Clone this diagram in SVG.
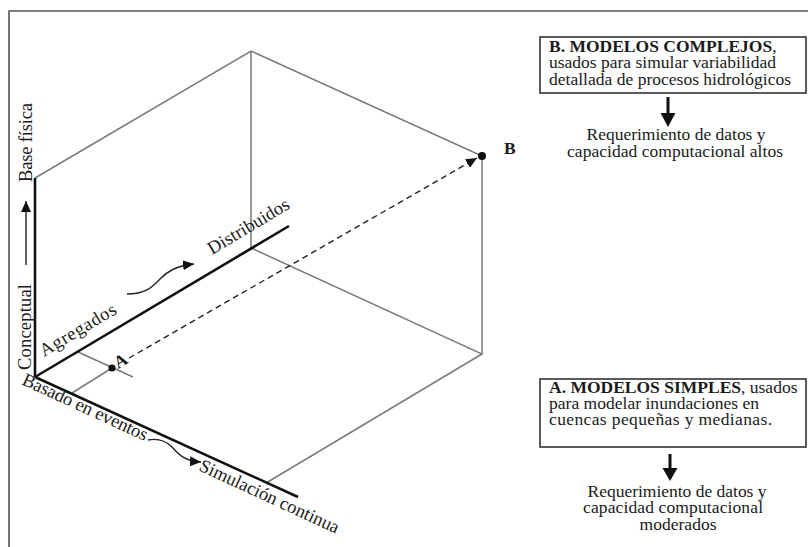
<svg xmlns="http://www.w3.org/2000/svg" width="808" height="547" viewBox="0 0 808 547">
<style>
.t{font-family:"Liberation Serif","Times New Roman",serif;fill:#1a1a1a}
.ax{font-size:18.5px}
.bx{font-size:17.5px}
.b{font-weight:bold}
.thick{stroke:#111;stroke-width:2.6;fill:none;stroke-linecap:butt}
.thin{stroke:#7a7a7a;stroke-width:1.5;fill:none}
.conn{stroke:#222;stroke-width:1.4;fill:none}
.box{fill:#fff;stroke:#333;stroke-width:1.6}
</style>
<defs>
<marker id="ah" markerWidth="12" markerHeight="10" refX="11" refY="5" orient="auto" markerUnits="userSpaceOnUse">
<path d="M0,0 L11,5 L0,10 z" fill="#111"/>
</marker>
</defs>
<rect width="808" height="547" fill="#fff"/>
<path d="M9,547 V11 H808" fill="none" stroke="#555" stroke-width="1.6"/>

<g id="cube">
<path class="thin" d="M35,178 L251,51 L482,156 L482,354 M251,51 L251,248 L482,354 L266,483"/>
<path class="thin" d="M72,393 L112,368 M78,352 L133,377"/>
</g>

<g id="axes">
<path class="thick" d="M35,377 V178"/>
<path class="thick" d="M35,377 L289,226"/>
<path class="thick" d="M35,377 L298,497"/>
</g>

<g id="axis-labels">
<text class="t ax" transform="translate(32,182) rotate(-90)" textLength="79">Base física</text>
<text class="t ax" transform="translate(31,370) rotate(-90)" textLength="86">Conceptual</text>
<text class="t ax" transform="translate(44,357) rotate(-30.8)" font-size="19.5" textLength="86">Agregados</text>
<text class="t ax" transform="translate(212,255) rotate(-30.8)" textLength="92">Distribuidos</text>
<text class="t ax" transform="translate(21,384) rotate(24.8)" textLength="136">Basado en eventos</text>
<text class="t ax" transform="translate(198,470) rotate(24.8)" textLength="152">Simulación continua</text>
</g>

<g id="pointA">
<circle cx="112" cy="368" r="3.6" fill="#111"/>
<text class="t b" font-size="17.5" transform="translate(118,369) rotate(-30)">A</text>
</g>

<g id="pointB">
<circle cx="482" cy="156" r="4" fill="#111"/>
<text class="t b" font-size="17.5" x="504" y="154">B</text>
</g>

<g id="connectors">
<path class="conn" d="M26,265 V201" marker-end="url(#ah)"/>
<path class="conn" d="M127,294 C146,294 152,287 160,279 C168,271 176,266 194,264" marker-end="url(#ah)"/>
<path class="conn" d="M148,440 C158,438 165,440 172,447 C179,455 185,461 201,462" marker-end="url(#ah)"/>
<path class="conn" d="M129,358 L477,158" stroke-width="1.5" stroke-dasharray="6,4" marker-end="url(#ah)"/>
<path d="M666.5,97 H669.5 V113 H675.5 L668,127 L660.5,113 H666.5 Z" fill="#111"/>
<path d="M668.5,454 H671.5 V468 H677.5 L670,481 L662.5,468 H668.5 Z" fill="#111"/>
</g>

<g id="boxB">
<rect class="box" x="540" y="37" width="266" height="56"/>
<text class="t bx"><tspan x="549" y="52"><tspan class="b">B. MODELOS COMPLEJOS</tspan>,</tspan><tspan x="549" y="68" textLength="227">usados para simular variabilidad</tspan><tspan x="549" y="84.5" textLength="242">detallada de procesos hidrológicos</tspan></text>
</g>

<g id="reqB">
<text class="t bx" text-anchor="middle"><tspan x="676" y="140" textLength="179">Requerimiento de datos y</tspan><tspan x="675" y="157" textLength="216">capacidad computacional altos</tspan></text>
</g>

<g id="boxA">
<rect class="box" x="540" y="379" width="266" height="68"/>
<text class="t bx"><tspan x="549" y="393"><tspan class="b">A. MODELOS SIMPLES</tspan>, usados</tspan><tspan x="549" y="409" textLength="210">para modelar inundaciones en</tspan><tspan x="549" y="425" textLength="223">cuencas pequeñas y medianas.</tspan></text>
</g>

<g id="reqA">
<text class="t bx" text-anchor="middle"><tspan x="677" y="497" textLength="179">Requerimiento de datos y</tspan><tspan x="673" y="513" textLength="180">capacidad computacional</tspan><tspan x="678" y="530" textLength="77">moderados</tspan></text>
</g>
</svg>
